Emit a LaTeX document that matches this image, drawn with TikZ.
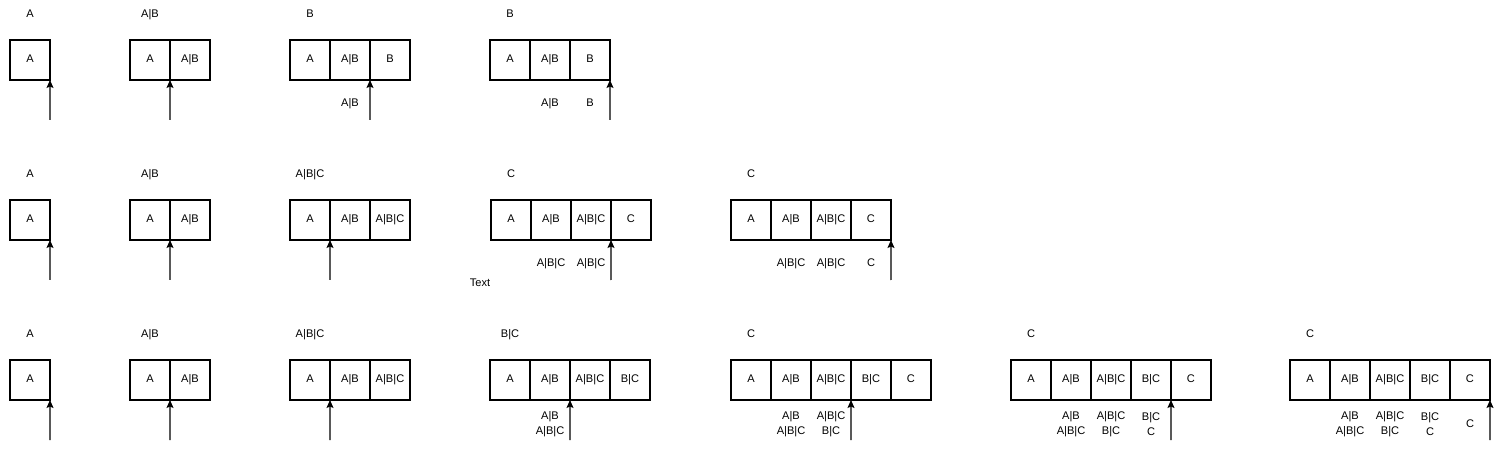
\documentclass[tikz,border=0pt]{standalone}
\usepackage{fontspec}
\setmainfont{Liberation Sans}
\usetikzlibrary{arrows.meta,positioning}
\tikzset{
  cell/.style={draw,minimum size=8mm,inner sep=0pt,outer sep=0pt,line width=0.6pt,
               text height=1.6mm,text depth=0.5mm},
  lab/.style={inner sep=0pt,align=center,text height=1.6mm,text depth=0.5mm},
  stack/.style={inner sep=0pt,align=center},
  ptr/.style={-{Stealth[length=1.6mm,width=1.4mm,inset=0.3mm]},line width=0.6pt},
}

\begin{document}
\begin{tikzpicture}[x=0.02cm,y=-0.02cm,every node/.append style={font=\fontsize{6.3}{8.5}\selectfont}]
  \useasboundingbox (0,0) rectangle (1501,449);

  % row 1
  \node[lab] (r1g1h) at (30,15) {A};
  \node[cell] (r1g1c1) at (30,60) {A};
  \coordinate (r1g1p) at (50,120);
  \draw[ptr] (r1g1p) -- (r1g1c1.south east);

  \node[lab] (r1g2h) at (150,15) {A|B};
  \node[cell] (r1g2c1) at (150,60) {A};
  \node[cell,right=0pt of r1g2c1] (r1g2c2) {A|B};
  \coordinate (r1g2p) at (170,120);
  \draw[ptr] (r1g2p) -- (r1g2c1.south east);

  \node[lab] (r1g3h) at (310,15) {B};
  \node[cell] (r1g3c1) at (310,60) {A};
  \node[cell,right=0pt of r1g3c1] (r1g3c2) {A|B};
  \node[cell,right=0pt of r1g3c2] (r1g3c3) {B};
  \coordinate (r1g3p) at (370,120);
  \draw[ptr] (r1g3p) -- (r1g3c2.south east);
  \node[lab] (r1g3l1) at (350,104) {A|B};

  \node[lab] (r1g4h) at (510,15) {B};
  \node[cell] (r1g4c1) at (510,60) {A};
  \node[cell,right=0pt of r1g4c1] (r1g4c2) {A|B};
  \node[cell,right=0pt of r1g4c2] (r1g4c3) {B};
  \coordinate (r1g4p) at (610,120);
  \draw[ptr] (r1g4p) -- (r1g4c3.south east);
  \node[lab] (r1g4l1) at (550,104) {A|B};
  \node[lab] (r1g4l2) at (590,104) {B};

  % row 2
  \node[lab] (r2g1h) at (30,175) {A};
  \node[cell] (r2g1c1) at (30,220) {A};
  \coordinate (r2g1p) at (50,280);
  \draw[ptr] (r2g1p) -- (r2g1c1.south east);

  \node[lab] (r2g2h) at (150,175) {A|B};
  \node[cell] (r2g2c1) at (150,220) {A};
  \node[cell,right=0pt of r2g2c1] (r2g2c2) {A|B};
  \coordinate (r2g2p) at (170,280);
  \draw[ptr] (r2g2p) -- (r2g2c1.south east);

  \node[lab] (r2g3h) at (310,175) {A|B|C};
  \node[cell] (r2g3c1) at (310,220) {A};
  \node[cell,right=0pt of r2g3c1] (r2g3c2) {A|B};
  \node[cell,right=0pt of r2g3c2] (r2g3c3) {A|B|C};
  \coordinate (r2g3p) at (330,280);
  \draw[ptr] (r2g3p) -- (r2g3c1.south east);

  \node[lab] (r2g4h) at (511,175) {C};
  \node[cell] (r2g4c1) at (511,220) {A};
  \node[cell,right=0pt of r2g4c1] (r2g4c2) {A|B};
  \node[cell,right=0pt of r2g4c2] (r2g4c3) {A|B|C};
  \node[cell,right=0pt of r2g4c3] (r2g4c4) {C};
  \coordinate (r2g4p) at (611,280);
  \draw[ptr] (r2g4p) -- (r2g4c3.south east);
  \node[lab] (r2g4l1) at (551,264) {A|B|C};
  \node[lab] (r2g4l2) at (591,264) {A|B|C};
  \node[lab] (note) at (480,284) {Text};

  \node[lab] (r2g5h) at (751,175) {C};
  \node[cell] (r2g5c1) at (751,220) {A};
  \node[cell,right=0pt of r2g5c1] (r2g5c2) {A|B};
  \node[cell,right=0pt of r2g5c2] (r2g5c3) {A|B|C};
  \node[cell,right=0pt of r2g5c3] (r2g5c4) {C};
  \coordinate (r2g5p) at (891,280);
  \draw[ptr] (r2g5p) -- (r2g5c4.south east);
  \node[lab] (r2g5l1) at (791,264) {A|B|C};
  \node[lab] (r2g5l2) at (831,264) {A|B|C};
  \node[lab] (r2g5l3) at (871,264) {C};

  % row 3
  \node[lab] (r3g1h) at (30,335) {A};
  \node[cell] (r3g1c1) at (30,380) {A};
  \coordinate (r3g1p) at (50,440);
  \draw[ptr] (r3g1p) -- (r3g1c1.south east);

  \node[lab] (r3g2h) at (150,335) {A|B};
  \node[cell] (r3g2c1) at (150,380) {A};
  \node[cell,right=0pt of r3g2c1] (r3g2c2) {A|B};
  \coordinate (r3g2p) at (170,440);
  \draw[ptr] (r3g2p) -- (r3g2c1.south east);

  \node[lab] (r3g3h) at (310,335) {A|B|C};
  \node[cell] (r3g3c1) at (310,380) {A};
  \node[cell,right=0pt of r3g3c1] (r3g3c2) {A|B};
  \node[cell,right=0pt of r3g3c2] (r3g3c3) {A|B|C};
  \coordinate (r3g3p) at (330,440);
  \draw[ptr] (r3g3p) -- (r3g3c1.south east);

  \node[lab] (r3g4h) at (510,335) {B|C};
  \node[cell] (r3g4c1) at (510,380) {A};
  \node[cell,right=0pt of r3g4c1] (r3g4c2) {A|B};
  \node[cell,right=0pt of r3g4c2] (r3g4c3) {A|B|C};
  \node[cell,right=0pt of r3g4c3] (r3g4c4) {B|C};
  \coordinate (r3g4p) at (570,440);
  \draw[ptr] (r3g4p) -- (r3g4c2.south east);
  \node[stack] (r3g4l1) at (550,424.5) {A|B\\A|B|C};

  \node[lab] (r3g5h) at (751,335) {C};
  \node[cell] (r3g5c1) at (751,380) {A};
  \node[cell,right=0pt of r3g5c1] (r3g5c2) {A|B};
  \node[cell,right=0pt of r3g5c2] (r3g5c3) {A|B|C};
  \node[cell,right=0pt of r3g5c3] (r3g5c4) {B|C};
  \node[cell,right=0pt of r3g5c4] (r3g5c5) {C};
  \coordinate (r3g5p) at (851,440);
  \draw[ptr] (r3g5p) -- (r3g5c3.south east);
  \node[stack] (r3g5l1) at (791,424.5) {A|B\\A|B|C};
  \node[stack] (r3g5l2) at (831,424.5) {A|B|C\\B|C};

  \node[lab] (r3g6h) at (1031,335) {C};
  \node[cell] (r3g6c1) at (1031,380) {A};
  \node[cell,right=0pt of r3g6c1] (r3g6c2) {A|B};
  \node[cell,right=0pt of r3g6c2] (r3g6c3) {A|B|C};
  \node[cell,right=0pt of r3g6c3] (r3g6c4) {B|C};
  \node[cell,right=0pt of r3g6c4] (r3g6c5) {C};
  \coordinate (r3g6p) at (1171,440);
  \draw[ptr] (r3g6p) -- (r3g6c4.south east);
  \node[stack] (r3g6l1) at (1071,424.5) {A|B\\A|B|C};
  \node[stack] (r3g6l2) at (1111,424.5) {A|B|C\\B|C};
  \node[stack] (r3g6l3) at (1151,424.5) {B|C\\C};

  \node[lab] (r3g7h) at (1310,335) {C};
  \node[cell] (r3g7c1) at (1310,380) {A};
  \node[cell,right=0pt of r3g7c1] (r3g7c2) {A|B};
  \node[cell,right=0pt of r3g7c2] (r3g7c3) {A|B|C};
  \node[cell,right=0pt of r3g7c3] (r3g7c4) {B|C};
  \node[cell,right=0pt of r3g7c4] (r3g7c5) {C};
  \coordinate (r3g7p) at (1490,440);
  \draw[ptr] (r3g7p) -- (r3g7c5.south east);
  \node[stack] (r3g7l1) at (1350,424.5) {A|B\\A|B|C};
  \node[stack] (r3g7l2) at (1390,424.5) {A|B|C\\B|C};
  \node[stack] (r3g7l3) at (1430,424.5) {B|C\\C};
  \node[lab] (r3g7l4) at (1470,424.5) {C};
\end{tikzpicture}
\end{document}
